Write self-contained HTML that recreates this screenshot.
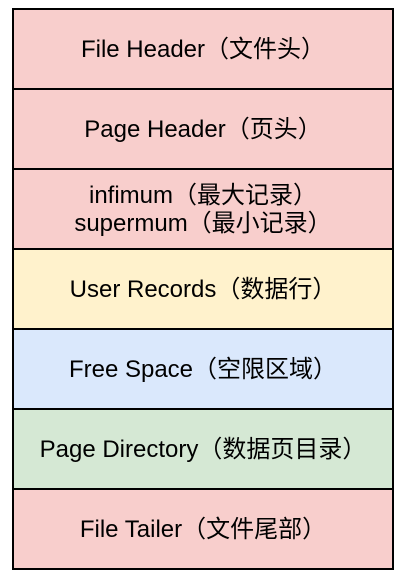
<!DOCTYPE html>
<html><head><meta charset="utf-8"><style>
html,body{margin:0;padding:0;background:#fff;width:405px;height:584px;overflow:hidden}
.r{position:absolute;left:12px;width:378px;height:76px;padding-top:2px;border:2px solid #000;display:flex;align-items:center;justify-content:center;text-align:center;font-family:"Liberation Sans","Noto Sans CJK SC",sans-serif;font-size:24px;line-height:28px;color:#000;white-space:nowrap}
</style></head><body>
<div class="r" style="top:8px;background:#f8cecc">File Header（文件头）</div>
<div class="r" style="top:88px;background:#f8cecc">Page Header（页头）</div>
<div class="r" style="top:168px;background:#f8cecc">infimum（最大记录）<br>supermum（最小记录）</div>
<div class="r" style="top:248px;background:#fff2cc">User Records（数据行）</div>
<div class="r" style="top:328px;background:#dae8fc">Free Space（空限区域）</div>
<div class="r" style="top:408px;background:#d5e8d4">Page Directory（数据页目录）</div>
<div class="r" style="top:488px;background:#f8cecc">File Tailer（文件尾部）</div>
</body></html>
